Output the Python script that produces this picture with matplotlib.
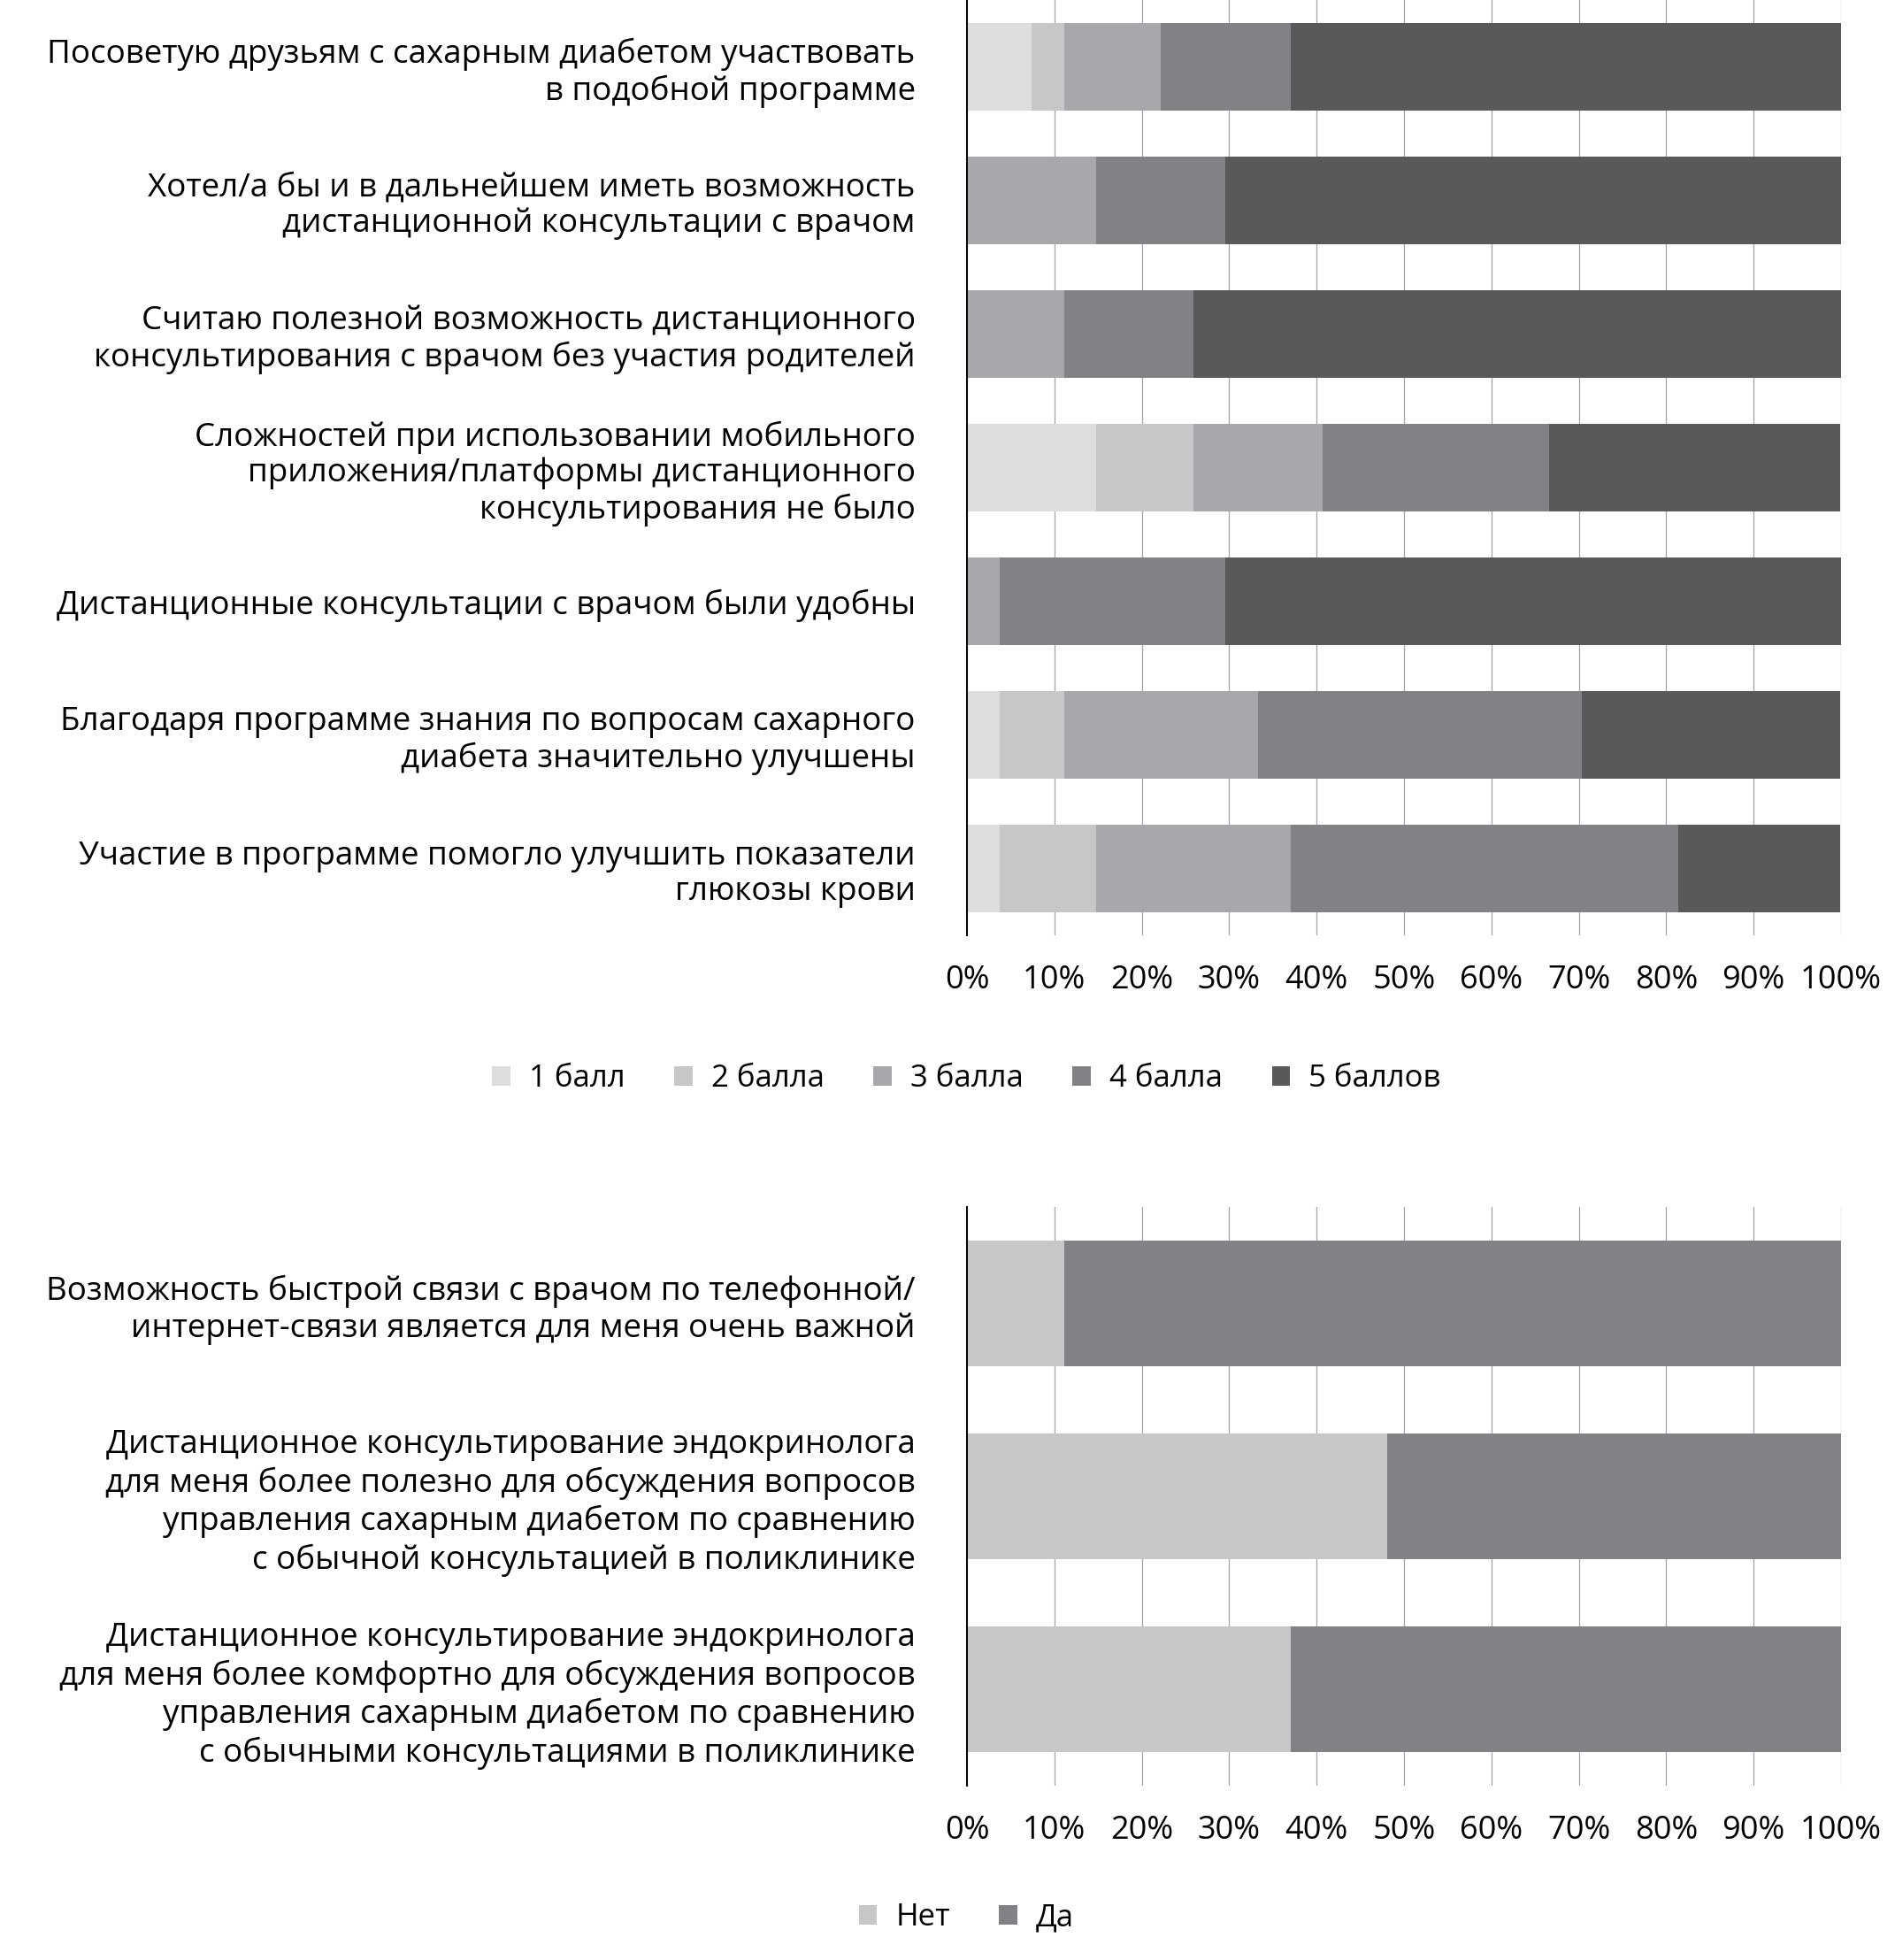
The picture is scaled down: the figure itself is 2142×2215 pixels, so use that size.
import numpy as np
import matplotlib.pyplot as plt

plt.rcParams['font.family'] = ['Open Sans', 'DejaVu Sans']

# верхний график: оценки по шкале 1-5, % респондентов
labels_top = [
    'Посоветую друзьям с сахарным диабетом участвовать\nв подобной программе',
    'Хотел/а бы и в дальнейшем иметь возможность\nдистанционной консультации с врачом',
    'Считаю полезной возможность дистанционного\nконсультирования с врачом без участия родителей',
    'Сложностей при использовании мобильного\nприложения/платформы дистанционного\nконсультирования не было',
    'Дистанционные консультации с врачом были удобны',
    'Благодаря программе знания по вопросам сахарного\nдиабета значительно улучшены',
    'Участие в программе помогло улучшить показатели\nглюкозы крови',
]
score_names = ['1 балл', '2 балла', '3 балла', '4 балла', '5 баллов']
ball1 = [7.4, 0.0, 0.0, 14.8, 0.0, 3.7, 3.7]
ball2 = [3.7, 0.0, 0.0, 11.1, 0.0, 7.4, 11.1]
ball3 = [11.1, 14.8, 11.1, 14.8, 3.7, 22.2, 22.2]
ball4 = [14.8, 14.8, 14.8, 25.9, 25.9, 37.0, 44.4]
ball5 = [63.0, 70.4, 74.1, 33.3, 70.4, 29.6, 18.5]
score_colors = ['#dcdddf', '#c6c7c9', '#a7a8ac', '#818285', '#58595b']

# нижний график: да / нет
labels_bot = [
    'Возможность быстрой связи с врачом по телефонной/\nинтернет-связи является для меня очень важной',
    'Дистанционное консультирование эндокринолога\nдля меня более полезно для обсуждения вопросов\nуправления сахарным диабетом по сравнению\nс обычной консультацией в поликлинике',
    'Дистанционное консультирование эндокринолога\nдля меня более комфортно для обсуждения вопросов\nуправления сахарным диабетом по сравнению\nс обычными консультациями в поликлинике',
]
yn_names = ['Нет', 'Да']
net = [11.1, 48.1, 37.0]
da = [88.9, 51.9, 63.0]
yn_colors = ['#c6c7c9', '#818285']

W, H = 2142, 2215
fig = plt.figure(figsize=(W / 100, H / 100), dpi=100)
fs_lab = 26.5
fs_tick = 26
fs_leg = 25


def style_axes(ax, labels, lsp):
    ax.set_xlim(0, 100)
    ax.set_ylim(len(labels) - 0.5, -0.5)
    ax.set_yticks(np.arange(len(labels)))
    ax.set_yticklabels(labels, fontsize=fs_lab, linespacing=lsp, ha='right')
    ax.set_xticks(np.arange(0, 101, 10))
    ax.set_xticklabels([f'{v}%' for v in range(0, 101, 10)], fontsize=fs_tick)
    ax.tick_params(axis='both', length=0)
    ax.tick_params(axis='y', pad=42)
    ax.tick_params(axis='x', pad=24)
    for s in ['top', 'right', 'bottom']:
        ax.spines[s].set_visible(False)
    ax.spines['left'].set_color('black')
    ax.spines['left'].set_linewidth(1.4)
    ax.spines['left'].set_zorder(5)
    ax.xaxis.grid(True, color='#a3a3a3', linewidth=0.9)
    ax.set_axisbelow(True)


# верхний
ax1 = fig.add_axes([1093 / W, 1 - 1057 / H, 988 / W, 1057 / H])
y = np.arange(len(labels_top))
left = np.zeros(len(labels_top))
for vals, name, col in zip([ball1, ball2, ball3, ball4, ball5], score_names, score_colors):
    ax1.barh(y, vals, left=left, height=0.66, color=col, label=name, linewidth=0)
    left = left + np.array(vals)
style_axes(ax1, labels_top, 1.15)
h1, l1 = ax1.get_legend_handles_labels()
fig.legend(h1, l1, loc='center', bbox_to_anchor=(0.51, 1 - 1219 / H), ncol=5,
           frameon=False, fontsize=fs_leg, handlelength=0.6, handleheight=0.6,
           handletextpad=0.6, columnspacing=1.6)

# нижний
ax2 = fig.add_axes([1093 / W, 1 - 2018 / H, 988 / W, 654 / H])
y = np.arange(len(labels_bot))
left = np.zeros(len(labels_bot))
for vals, name, col in zip([net, da], yn_names, yn_colors):
    ax2.barh(y, vals, left=left, height=0.65, color=col, label=name, linewidth=0)
    left = left + np.array(vals)
style_axes(ax2, labels_bot, 1.22)
h2, l2 = ax2.get_legend_handles_labels()
fig.legend(h2, l2, loc='center', bbox_to_anchor=(0.51, 1 - 2167 / H), ncol=2,
           frameon=False, fontsize=fs_leg, handlelength=0.6, handleheight=0.6,
           handletextpad=0.6, columnspacing=1.6)

fig.savefig('out.png', dpi=100)
